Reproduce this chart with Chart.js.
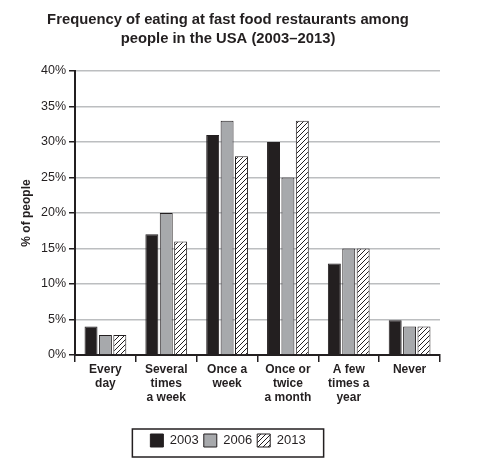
<!DOCTYPE html>
<html>
<head>
<meta charset="utf-8">
<script src="https://cdn.jsdelivr.net/npm/chart.js@4/dist/chart.umd.min.js"></script>
<style>
html,body{margin:0;padding:0;background:#fff;}
#wrap{width:481px;height:467px;position:relative;}
</style>
</head>
<body>
<div id="wrap"><canvas id="c"></canvas></div>
<script>
const categories = [["Every","day"],["Several","times","a week"],["Once a","week"],["Once or","twice","a month"],["A few","times a","year"],["Never"]];
const years = ["2003","2006","2013"];
const values2003 = [4, 17, 31, 30, 12.9, 4.9];
const values2006 = [2.8, 20, 33, 25, 15, 4];
const values2013 = [2.8, 16, 28, 33, 15, 4];
const yTicks = [0,5,10,15,20,25,30,35,40];

const FONT = "'Liberation Sans', Arial, Helvetica, sans-serif";
const DARK = '#231f20';

function hatch() {
  const s = 5;
  const cv = document.createElement('canvas');
  cv.width = s; cv.height = s;
  const g = cv.getContext('2d');
  g.fillStyle = '#fff';
  g.fillRect(0,0,s,s);
  g.strokeStyle = DARK;
  g.lineWidth = 1;
  g.beginPath();
  g.moveTo(-1, s+1); g.lineTo(s+1, -1);
  g.moveTo(-1, 1); g.lineTo(1, -1);
  g.moveTo(s-1, s+1); g.lineTo(s+1, s-1);
  g.stroke();
  return g.createPattern(cv, 'repeat');
}
const ctx = document.getElementById('c').getContext('2d');
const hatchPattern = hatch();

const legendBox = {
  id: 'legendBox',
  afterDraw(chart) {
    const lg = chart.legend;
    if (!lg || !lg.legendHitBoxes || !lg.legendHitBoxes.length) return;
    const hb = lg.legendHitBoxes;
    let l = Infinity, r = -Infinity;
    hb.forEach(b => { l = Math.min(l, b.left); r = Math.max(r, b.left + b.width); });
    const c = chart.ctx;
    c.save();
    c.strokeStyle = DARK;
    c.lineWidth = 1.5;
    c.strokeRect(l - 18, lg.top, (r - l) + 36, lg.height);
    c.restore();
  }
};

new Chart(ctx, {
  type: 'bar',
  data: {
    labels: categories,
    datasets: [
      { label: years[0], data: values2003, backgroundColor: DARK, borderColor: DARK, borderWidth: 1 },
      { label: years[1], data: values2006, backgroundColor: '#a7a9ac', borderColor: DARK, borderWidth: 1 },
      { label: years[2], data: values2013, backgroundColor: hatchPattern, borderColor: DARK, borderWidth: 1 }
    ]
  },
  options: {
    responsive: true,
    maintainAspectRatio: false,
    animation: false,
    devicePixelRatio: 1,
    layout: { padding: { left: 0, right: 25, top: 0, bottom: 10 } },
    datasets: { bar: { categoryPercentage: 0.71, barPercentage: 0.9 } },
    plugins: {
      title: {
        display: true,
        text: ['Frequency of eating at fast food restaurants among', 'people in the USA (2003\u20132013)'],
        color: DARK,
        font: { family: FONT, size: 14.8, weight: 'bold', lineHeight: 1.25 },
        padding: { top: 11, bottom: 23 }
      },
      legend: {
        position: 'bottom',
        labels: {
          color: DARK,
          font: { family: FONT, size: 13 },
          boxWidth: 13,
          boxHeight: 13,
          padding: 5
        }
      },
      tooltip: { enabled: false }
    },
    scales: {
      x: {
        offset: true,
        grid: { display: true, drawOnChartArea: false, drawTicks: true, tickLength: 7, color: DARK, lineWidth: 1.5, offset: true },
        border: { display: true, color: DARK, width: 2 },
        ticks: { color: DARK, font: { family: FONT, size: 12, weight: 'bold', lineHeight: 1.2 }, padding: 0, maxRotation: 0, autoSkip: false },
        afterFit: s => { s.height = 74; }
      },
      y: {
        min: 0, max: 40,
        afterBuildTicks: s => { s.ticks = yTicks.map(v => ({ value: v })); },
        grid: { color: '#bcbec0', lineWidth: 1.5, tickColor: DARK, tickLength: 6 },
        border: { display: true, color: DARK, width: 2 },
        ticks: { color: DARK, font: { family: FONT, size: 12.5 }, padding: 3, callback: v => v + '%' },
        title: { display: true, text: '% of people', color: DARK, font: { family: FONT, size: 12, weight: 'bold' }, padding: { top: 19, bottom: 0 } },
        afterFit: s => { s.width = 75; }
      },
      y2: {
        position: 'right',
        display: true,
        min: 0, max: 40,
        grid: { display: false, drawTicks: false },
        border: { display: false },
        ticks: { display: false },
        afterFit: s => { s.width = 16; }
      }
    }
  },
  plugins: [legendBox]
});
</script>
</body>
</html>
